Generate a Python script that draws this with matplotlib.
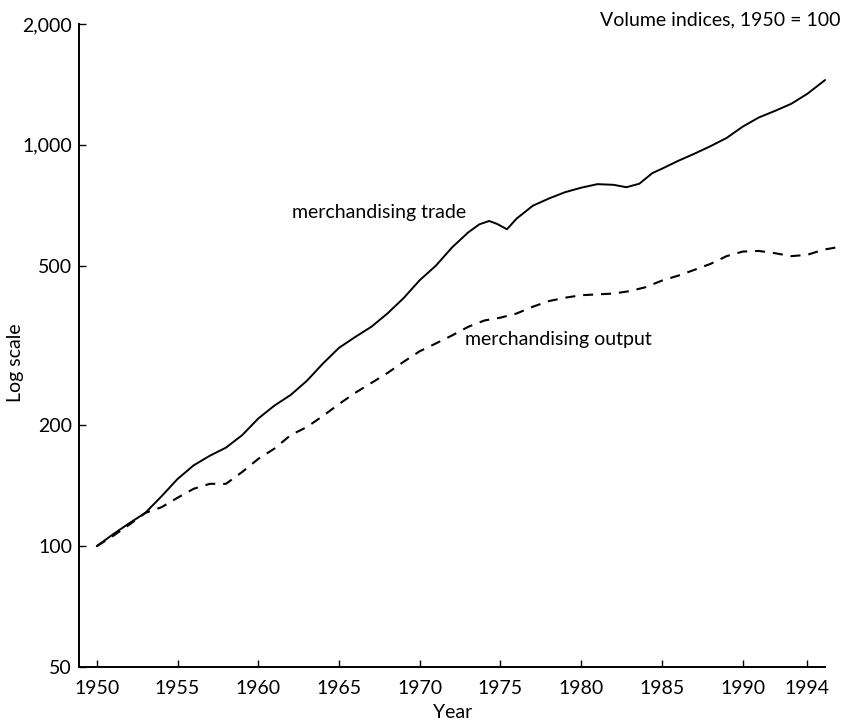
import numpy as np
import matplotlib
matplotlib.use('Agg')
import matplotlib.pyplot as plt
from matplotlib.ticker import FixedLocator, NullLocator

plt.rcParams['font.family'] = ['Lato', 'DejaVu Sans']

# volume indices, 1950 = 100
trade_years = [1950, 1951, 1952, 1953, 1954, 1955, 1956, 1957, 1958, 1959,
               1960, 1961, 1962, 1963, 1964, 1965, 1966, 1967, 1968, 1969,
               1970, 1971, 1972, 1973, 1973.7, 1974.3, 1974.8, 1975.4, 1976,
               1977, 1978, 1979, 1980, 1981, 1982, 1982.8, 1983.6, 1984.4,
               1985, 1986, 1987, 1988, 1989, 1990, 1991, 1992, 1993, 1994, 1995.1]
trade = [100, 107, 114, 121, 133, 147, 159, 168, 176, 189,
         208, 224, 238, 258, 285, 312, 332, 352, 380, 415,
         460, 500, 555, 605, 634, 646, 635, 616, 655,
         705, 735, 762, 782, 798, 795, 784, 800, 850,
         872, 912, 950, 992, 1040, 1110, 1170, 1215, 1265, 1340, 1450]

output_years = [1950, 1951, 1952, 1953, 1954, 1955, 1956, 1957, 1958, 1959,
                1960, 1961, 1962, 1963, 1964, 1965, 1966, 1967, 1968, 1969,
                1970, 1971, 1972, 1973, 1974, 1975, 1976, 1977, 1978, 1979,
                1980, 1981, 1982, 1983, 1984, 1985, 1986, 1987, 1988, 1989,
                1990, 1991, 1992, 1993, 1994, 1995, 1995.8]
output = [100, 106, 113, 121, 125, 132, 139, 143, 143, 153,
          165, 175, 189, 198, 211, 226, 241, 255, 270, 288,
          306, 320, 335, 352, 365, 371, 380, 395, 408, 416,
          422, 424, 426, 432, 442, 459, 472, 488, 505, 528,
          542, 544, 537, 528, 532, 548, 555]

x_ticks = [1950, 1955, 1960, 1965, 1970, 1975, 1980, 1985, 1990, 1994]
y_ticks = [50, 100, 200, 500, 1000, 2000]
y_labels = ['50', '100', '200', '500', '1,000', '2,000']

fs = 14

fig = plt.figure(figsize=(8.46, 7.22), dpi=100)
ax = fig.add_axes([79 / 846, 55 / 722, 759 / 846, 643 / 722])

ax.plot(trade_years, trade, color='black', lw=1.4, solid_capstyle='round')
ax.plot(output_years, output, color='black', lw=1.5, dashes=(4.8, 3.8))

ax.set_yscale('log')
ax.set_ylim(50, 2000)
ax.set_xlim(1948.9, 1995.9)

ax.yaxis.set_major_locator(FixedLocator(y_ticks))
ax.yaxis.set_minor_locator(NullLocator())
ax.set_yticklabels(y_labels)
ax.set_xticks(x_ticks)
ax.set_xticklabels([str(y) for y in x_ticks])

ax.tick_params(axis='both', direction='in', length=5, width=1,
               labelsize=fs, pad=5, colors='black')
ax.tick_params(axis='x', pad=9)

ax.spines['top'].set_visible(False)
ax.spines['right'].set_visible(False)
ax.spines['left'].set_linewidth(1.4)
ax.spines['bottom'].set_linewidth(1.4)
ax.spines['bottom'].set_bounds(1948.9, 1995.1)

ax.set_ylabel('Log scale', fontsize=fs)
ax.yaxis.set_label_coords(-0.0725, 0.473)
ax.set_xlabel('Year', fontsize=fs)
ax.xaxis.set_label_coords(0.492, -0.057)

ax.text(1972.9, 678, 'merchandising trade', fontsize=fs, ha='right', va='center')
ax.text(1972.8, 327, 'merchandising output', fontsize=fs, ha='left', va='center')
fig.text(840 / 846, 1 - 20 / 722, 'Volume indices, 1950 = 100', fontsize=fs,
         ha='right', va='center')

fig.savefig('out.png', dpi=100)
